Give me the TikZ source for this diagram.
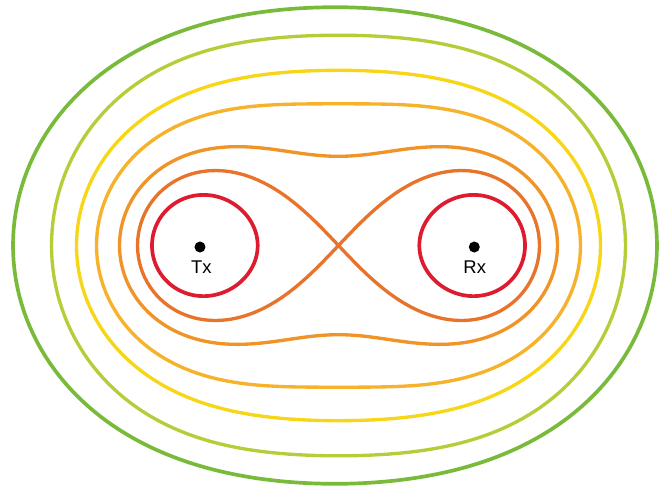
\documentclass[tikz,border=0pt]{standalone}
\usepackage{fontspec}
\setmainfont{Liberation Sans}
\definecolor{cgreen}{RGB}{122,186,58}
\definecolor{cyg}{RGB}{180,206,58}
\definecolor{cyel}{RGB}{246,214,22}
\definecolor{coy}{RGB}{245,178,42}
\definecolor{cor}{RGB}{240,148,40}
\definecolor{cor2}{RGB}{232,116,44}
\definecolor{cred}{RGB}{222,28,48}
% single-loop Cassini oval: #1 = a^2, #2 = b^2 (b>a), #3 = style
\newcommand\cassOne[3]{%
  \draw[#3] plot[domain=0:360,samples=241,variable=\t]
    ({\t}:{sqrt(#1*cos(2*\t)+sqrt(#2*#2-#1*#1*sin(2*\t)*sin(2*\t)))}) -- cycle;}
% one loop of a two-loop Cassini oval (b<a): #1 = a^2, #2 = b^2, #3 = angle offset, #4 = style
\newcommand\cassLoop[4]{%
  \draw[#4] plot[domain=0:360,samples=181,variable=\t]
    ({#3+atan2(#2*sin(\t),#1+#2*cos(\t))/2}:{sqrt(sqrt(#1*#1+2*#1*#2*cos(\t)+#2*#2))}) -- cycle;}
\tikzset{
  curve/.style={line width=1.9pt, line join=round},
  dot/.style={circle, fill=black, inner sep=0pt, minimum size=0.22cm},
  lbl/.style={anchor=base, inner sep=0pt, font=\fontsize{10.5}{12}\selectfont}
}
\begin{document}
\begin{tikzpicture}[x=2cm,y=2cm]
\useasboundingbox (-3.385,-2.445) rectangle (3.215,2.455);
\begin{scope}[xshift=-0.035*2cm]
\cassOne{2.3449}{8.0235}{curve, cgreen, line width=2.1pt}
\end{scope}
\begin{scope}[yscale=1.1028]
\cassOne{2.3}{5.9369}{curve, cyg}
\end{scope}
\cassOne{1.8975}{4.9670}{curve, cyel}
\cassOne{1.9243}{3.9322}{curve, coy}
\cassOne{2.0002}{2.7959}{curve, cor}
% lemniscate
\draw[curve, cor2] plot[domain=0:360,samples=241,variable=\t]
  ({2.01*cos(\t)/(1+sin(\t)*sin(\t))},{1.055*2.01*sin(\t)*cos(\t)/(1+sin(\t)*sin(\t))}) -- cycle;
% red loops
\begin{scope}[yscale=1.03]
\cassLoop{2.0656}{1.4126}{0}{curve, cred, line width=2.1pt}
\cassLoop{2.0656}{1.4126}{180}{curve, cred, line width=2.1pt}
\end{scope}
\node[dot] (dtx) at (-1.385,-0.015) {};
\node[dot] (drx) at (1.358,-0.015) {};
\node[lbl] (tx) at (-1.372,-0.278) {Tx};
\node[lbl] (rx) at (1.362,-0.278) {Rx};
\end{tikzpicture}
\end{document}
